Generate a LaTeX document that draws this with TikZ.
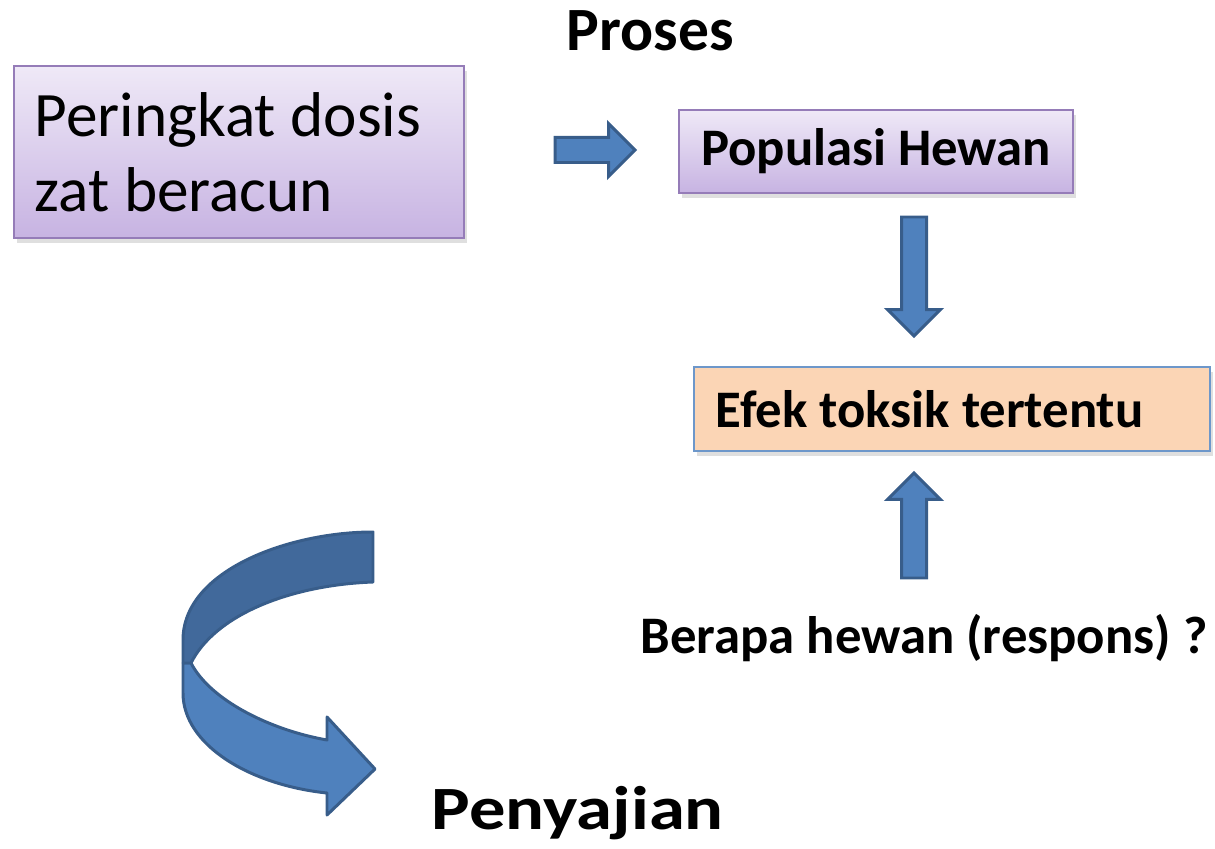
\documentclass[tikz,border=0pt]{standalone}
\usepackage{fontspec}
\setmainfont{Carlito}
\usepackage{xcolor}
\usepackage{tikz}
\usetikzlibrary{shapes,arrows,positioning,shadows}

\definecolor{boxtop}{HTML}{EFE9F7}
\definecolor{boxbot}{HTML}{C7B3E2}
\definecolor{boxline}{HTML}{957CB8}
\definecolor{peach}{HTML}{FBD5B5}
\definecolor{peachline}{HTML}{6D97CA}
\definecolor{arrowfill}{HTML}{4F81BD}
\definecolor{arrowdark}{HTML}{41699B}
\definecolor{arrowline}{HTML}{385D8A}

\begin{document}
\begin{tikzpicture}[
    x=0.01cm, y=-0.01cm,
    lavbox/.style={rectangle, draw=boxline, line width=0.6pt, top color=boxtop, bottom color=boxbot,
        drop shadow={shadow xshift=0.8pt, shadow yshift=-1.4pt, opacity=0.25}},
    peachbox/.style={rectangle, draw=peachline, line width=0.6pt, fill=peach,
        drop shadow={shadow xshift=0.8pt, shadow yshift=-1.4pt, opacity=0.25}},
    blockarrow/.style={single arrow, draw=arrowline, fill=arrowfill, line width=0.85pt,
        inner sep=0.11cm, outer sep=0pt, single arrow head extend=0.14cm, single arrow head indent=0cm},
    label/.style={inner sep=0pt, anchor=base west}
]
    \useasboundingbox (0,0) rectangle (1215,849);

    % Boxes
    \node[lavbox, minimum width=4.5cm, minimum height=1.72cm, inner xsep=0.21cm,
        text width=4.08cm, align=flush left, font=\fontsize{18}{21.3}\selectfont] (dosis) at (239,152)
        {Peringkat dosis\\zat beracun};
    \node[lavbox, minimum width=3.94cm, minimum height=0.83cm,
        font=\fontsize{15}{18}\selectfont\bfseries] (populasi) at (876,151.5) {Populasi Hewan};
    \node[peachbox, minimum width=5.16cm, minimum height=0.84cm, inner xsep=0.22cm,
        text width=4.72cm, align=flush left, font=\fontsize{15}{18}\selectfont\bfseries] (efek) at (952,409)
        {Efek toksik tertentu};

    % Labels
    \node[label, font=\fontsize{17.5}{21}\selectfont\bfseries] (proses) at (566,51) {Proses};
    \node[label, font=\fontsize{15}{18}\selectfont\bfseries] (berapa) at (640,653) {Berapa hewan (respons) ?};
    \node[label, xscale=1.18, font=\fontsize{17.5}{21}\selectfont\bfseries] (penyajian) at (431,829) {Penyajian};

    % Block arrows
    \node[blockarrow, minimum height=0.8cm, anchor=tail] (kanan) at (555,150) {};
    \node[blockarrow, minimum height=1.19cm, shape border rotate=270, anchor=tail] (bawah) at (914,217) {};
    \node[blockarrow, minimum height=1.05cm, shape border rotate=90, anchor=tail] (atas) at (914,578) {};

    % Curved arrow
    \filldraw[fill=arrowfill, draw=arrowline, line width=0.85pt, line join=round]
        (183,663) -- (183,693) .. controls (183,745) and (250,785) .. (327,793)
        -- (327,815) -- (375,769) -- (327,717) -- (327,740)
        .. controls (270,730) and (210,700) .. (191,663) -- cycle;
    \filldraw[fill=arrowdark, draw=arrowline, line width=0.85pt, line join=round]
        (373,532) .. controls (290,532) and (183,570) .. (183,640)
        -- (183,663) -- (191,663)
        .. controls (215,615) and (290,585) .. (373,582) -- cycle;

\end{tikzpicture}
\end{document}
